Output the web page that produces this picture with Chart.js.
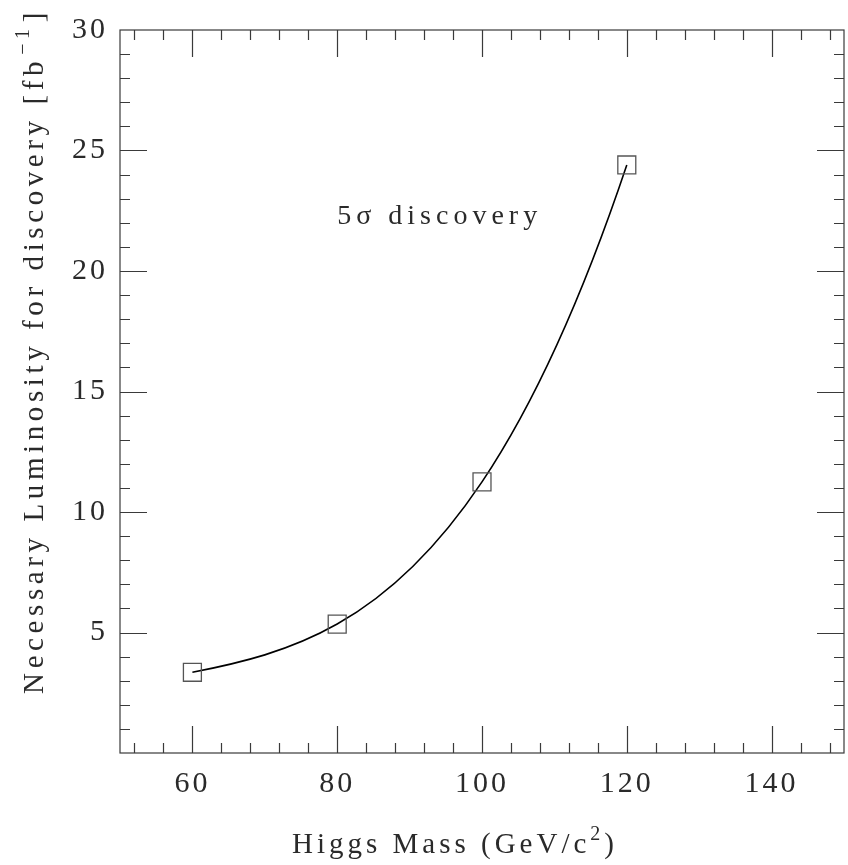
<!DOCTYPE html>
<html>
<head>
<meta charset="utf-8">
<script src="https://cdn.jsdelivr.net/npm/chart.js@4/dist/chart.umd.min.js"></script>
<style>
  html, body { margin: 0; padding: 0; background: #fff; }
</style>
</head>
<body>
<canvas id="chart" width="848" height="865"></canvas>
<script>
// Higgs mass points and the luminosity needed for a 5 sigma discovery
var masses = [60, 80, 100, 120];
var lumi = [3.35, 5.35, 11.25, 24.4];
var xTickLabels = [60, 80, 100, 120, 140];
var yTickLabels = [5, 10, 15, 20, 25, 30];

var FONT = '"Liberation Serif", "DejaVu Serif", serif';
var INK = '#2a2a2a';

// cubic through the four points (Newton form), returns value and slope
function cubicThrough(xs, ys) {
    var d1 = [], d2 = [];
    for (var i = 0; i < 3; i++) d1.push((ys[i + 1] - ys[i]) / (xs[i + 1] - xs[i]));
    for (i = 0; i < 2; i++) d2.push((d1[i + 1] - d1[i]) / (xs[i + 2] - xs[i]));
    var d3 = (d2[1] - d2[0]) / (xs[3] - xs[0]);
    return {
        f: function (x) {
            var a = x - xs[0], b = x - xs[1], c = x - xs[2];
            return ys[0] + d1[0] * a + d2[0] * a * b + d3 * a * b * c;
        },
        df: function (x) {
            var a = x - xs[0], b = x - xs[1], c = x - xs[2];
            return d1[0] + d2[0] * (a + b) + d3 * (a * b + a * c + b * c);
        }
    };
}

// smooth curve drawn under the markers as exact bezier pieces
var fitCurve = {
    id: 'fitCurve',
    beforeDatasetsDraw: function (chart) {
        var ctx = chart.ctx, xs = chart.scales.x, ys = chart.scales.y;
        var p = cubicThrough(masses, lumi);
        ctx.save();
        ctx.letterSpacing = '0px';
        ctx.strokeStyle = '#000';
        ctx.lineWidth = 1.6;
        ctx.beginPath();
        ctx.moveTo(xs.getPixelForValue(masses[0]), ys.getPixelForValue(p.f(masses[0])));
        for (var i = 0; i < masses.length - 1; i++) {
            var x0 = masses[i], x1 = masses[i + 1], h = (x1 - x0) / 3;
            ctx.bezierCurveTo(
                xs.getPixelForValue(x0 + h), ys.getPixelForValue(p.f(x0) + h * p.df(x0)),
                xs.getPixelForValue(x1 - h), ys.getPixelForValue(p.f(x1) - h * p.df(x1)),
                xs.getPixelForValue(x1), ys.getPixelForValue(p.f(x1)));
        }
        ctx.stroke();
        ctx.restore();
    }
};

// frame and inward ticks on all four sides, Hershey/PAW style
var frameTicks = {
    id: 'frameTicks',
    beforeDraw: function (chart) {
        chart.ctx.letterSpacing = '3px';
    },
    afterDraw: function (chart) {
        var ctx = chart.ctx;
        var a = chart.chartArea;
        var xs = chart.scales.x, ys = chart.scales.y;
        ctx.save();
        ctx.letterSpacing = '0px';
        ctx.strokeStyle = '#3a3a3a';
        ctx.lineWidth = 1.2;
        ctx.strokeRect(a.left, a.top, a.right - a.left, a.bottom - a.top);
        ctx.beginPath();
        xs.ticks.forEach(function (t) {
            if (t.value <= xs.min || t.value >= xs.max || t.value % 4 !== 0) return;
            var px = Math.round(xs.getPixelForValue(t.value)) + 0.5;
            var len = t.value % 20 === 0 ? 27 : 10;
            ctx.moveTo(px, a.bottom); ctx.lineTo(px, a.bottom - len);
            ctx.moveTo(px, a.top); ctx.lineTo(px, a.top + len);
        });
        ys.ticks.forEach(function (t) {
            if (t.value <= ys.min || t.value >= ys.max) return;
            var py = Math.round(ys.getPixelForValue(t.value)) + 0.5;
            var len = t.value % 5 === 0 ? 27 : 10;
            ctx.moveTo(a.left, py); ctx.lineTo(a.left + len, py);
            ctx.moveTo(a.right, py); ctx.lineTo(a.right - len, py);
        });
        ctx.stroke();

        ctx.fillStyle = INK;
        ctx.textBaseline = 'alphabetic';
        ctx.textAlign = 'left';

        // x title with superscript 2
        ctx.letterSpacing = '4px';
        var p1 = 'Higgs Mass (GeV/c', p3 = ')';
        ctx.font = '20px ' + FONT;
        var w2 = ctx.measureText('2').width;
        ctx.font = '29px ' + FONT;
        var w1 = ctx.measureText(p1).width, w3 = ctx.measureText(p3).width;
        var total = w1 + w2 + w3;
        var x0 = 455 - total / 2;
        var base = 853;
        ctx.fillText(p1, x0, base);
        ctx.font = '20px ' + FONT;
        ctx.fillText('2', x0 + w1, base - 13);
        ctx.font = '29px ' + FONT;
        ctx.fillText(p3, x0 + w1 + w2, base);

        // y title, rotated, with superscript -1
        ctx.save();
        ctx.translate(43, 353);
        ctx.rotate(-Math.PI / 2);
        ctx.letterSpacing = '4.6px';
        var q1 = 'Necessary Luminosity for discovery [fb', q3 = ']';
        ctx.font = '20px ' + FONT;
        var ws = ctx.measureText('\u22121').width;
        ctx.font = '29px ' + FONT;
        var wq1 = ctx.measureText(q1).width, wq3 = ctx.measureText(q3).width;
        var tot = wq1 + ws + wq3;
        var y0 = -tot / 2;
        ctx.fillText(q1, y0, 0);
        ctx.font = '20px ' + FONT;
        ctx.fillText('\u22121', y0 + wq1 + 2, -14);
        ctx.font = '29px ' + FONT;
        ctx.fillText(q3, y0 + wq1 + ws + 4, 0);
        ctx.restore();

        // annotation
        ctx.font = '28px ' + FONT;
        ctx.letterSpacing = '5px';
        ctx.fillText('5\u03c3 discovery', xs.getPixelForValue(80), ys.getPixelForValue(21.95));
        ctx.restore();
    }
};

var ctx = document.getElementById('chart').getContext('2d');
var chart = new Chart(ctx, {
    type: 'line',
    data: {
        datasets: [{
            data: masses.map(function (m, i) { return { x: m, y: lumi[i] }; }),
            showLine: false,
            pointStyle: 'rect',
            pointRadius: 12.7,
            pointBorderColor: '#555',
            pointBorderWidth: 1.3,
            pointBackgroundColor: 'rgba(0,0,0,0)'
        }]
    },
    options: {
        responsive: false,
        animation: false,
        layout: { autoPadding: false, padding: { top: 30, right: 4, left: 0, bottom: 0 } },
        plugins: { legend: { display: false }, tooltip: { enabled: false } },
        scales: {
            x: {
                type: 'linear',
                min: 50,
                max: 150,
                grid: { display: false, drawTicks: false },
                border: { display: false },
                afterFit: function (s) { s.height = 112; s.paddingLeft = 0; s.paddingRight = 0; },
                ticks: {
                    stepSize: 2,
                    autoSkip: false,
                    maxRotation: 0,
                    padding: 13,
                    color: INK,
                    font: { family: FONT, size: 30 },
                    callback: function (v) { return xTickLabels.indexOf(v) >= 0 ? String(v) : ''; }
                }
            },
            y: {
                min: 0,
                max: 30,
                grid: { display: false, drawTicks: false },
                border: { display: false },
                afterFit: function (s) { s.width = 120; s.paddingTop = 0; s.paddingBottom = 0; },
                ticks: {
                    stepSize: 1,
                    autoSkip: false,
                    padding: 12,
                    color: INK,
                    font: { family: FONT, size: 30 },
                    callback: function (v) { return yTickLabels.indexOf(v) >= 0 ? String(v) : ''; }
                }
            }
        }
    },
    plugins: [fitCurve, frameTicks]
});
</script>
</body>
</html>
